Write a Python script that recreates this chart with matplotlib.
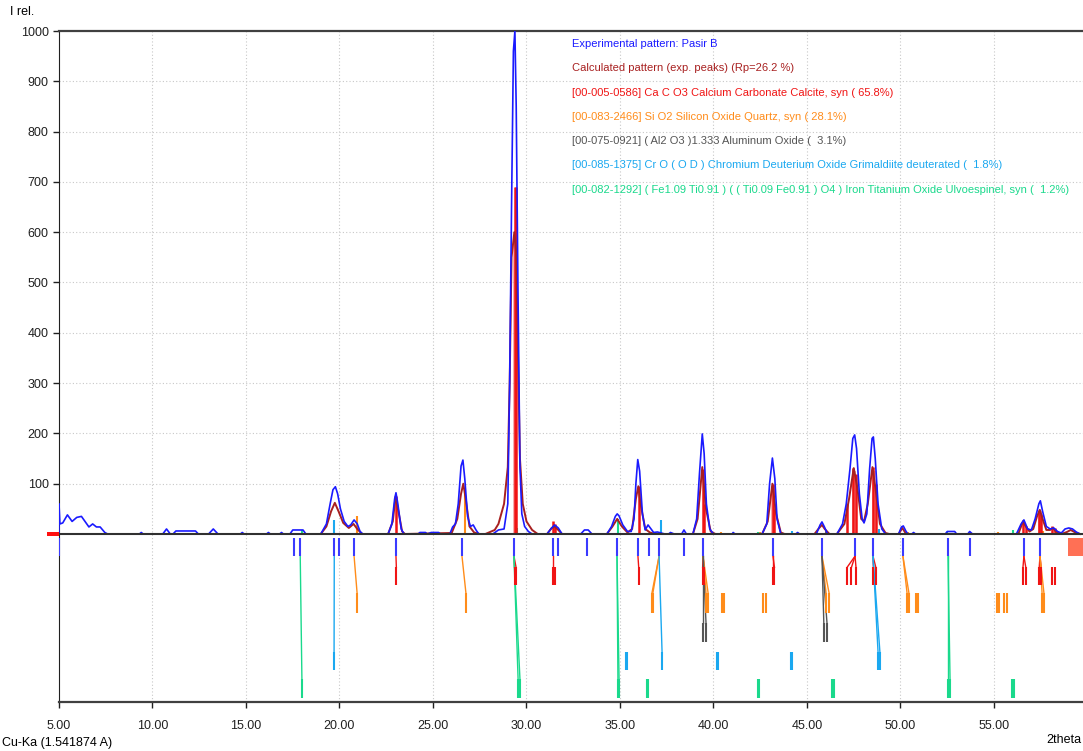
import numpy as np
import matplotlib.pyplot as plt

nan = np.nan

# experimental pattern (knots)
exp_2theta = [5.0, 5.0, 5.05, 5.2, 5.45, 5.7, 5.95, 6.2, 6.45, 6.6, 6.8, 7.0, 7.2, 7.45, 7.6,
              9.3, 9.4, 9.5, 10.55, 10.75, 10.95, 11.1, 11.25, 12.3, 12.45, 13.0, 13.25, 13.5,
              14.7, 14.8, 14.9, 16.1, 16.2, 16.3, 16.8, 16.9, 17.0, 17.35, 17.5, 18.05, 18.2,
              19.0, 19.3, 19.5, 19.65, 19.78, 19.9, 20.05, 20.25, 20.45, 20.6, 20.78, 20.95, 21.1, 21.25,
              22.6, 22.8, 22.95, 23.02, 23.12, 23.3, 23.45,
              24.2, 24.3, 24.6, 24.7, 24.9, 25.3, 25.4,
              25.9, 26.05, 26.2, 26.35, 26.5, 26.6, 26.7, 26.85, 27.0, 27.15, 27.3, 27.45,
              28.2, 28.5, 28.8, 29.0, 29.1, 29.2, 29.3, 29.38, 29.45, 29.55, 29.65, 29.75, 29.9, 30.1, 30.3,
              31.1, 31.3, 31.5, 31.7, 31.9, 32.9, 33.1, 33.3, 33.5,
              34.3, 34.55, 34.75, 34.85, 34.95, 35.15, 35.4, 35.6, 35.75, 35.85, 35.95, 36.05, 36.2,
              36.35, 36.5, 36.62, 36.8, 37.0, 37.2, 37.4, 37.6, 37.7, 37.9, 38.3, 38.42, 38.55,
              38.9, 39.1, 39.25, 39.4, 39.5, 39.62, 39.8, 40.0, 41.0, 41.05, 41.15,
              42.6, 42.85, 43.0, 43.15, 43.28, 43.4, 43.6, 44.4, 44.5, 44.6,
              45.5, 45.7, 45.8, 45.92, 46.1,
              46.6, 46.9, 47.1, 47.3, 47.45, 47.55, 47.65, 47.8, 47.95, 48.05, 48.2, 48.35, 48.48,
              48.55, 48.65, 48.8, 49.0, 49.2,
              49.9, 50.05, 50.15, 50.3, 50.4, 50.6, 50.7, 50.8,
              52.4, 52.5, 52.9, 53.0, 53.6, 53.7, 53.85,
              56.2, 56.45, 56.6, 56.8, 57.0, 57.2, 57.4, 57.48, 57.6, 57.8, 58.0, 58.2, 58.4,
              58.6, 58.8, 59.0, 59.2, 59.4, 59.6, 59.8]
exp_counts = [0, 60, 20, 22, 38, 25, 33, 35, 22, 14, 20, 14, 14, 3, 0,
              0, 3, 0, 0, 10, 0, 0, 6, 6, 0, 0, 10, 0,
              0, 3, 0, 0, 3, 0, 0, 3, 0, 0, 8, 8, 0,
              0, 20, 60, 88, 94, 80, 50, 25, 15, 18, 28, 20, 5, 0,
              0, 20, 70, 82, 60, 10, 0,
              0, 3, 3, 0, 3, 3, 0,
              0, 14, 20, 60, 135, 147, 110, 35, 15, 18, 8, 0,
              0, 8, 10, 60, 300, 650, 960, 1000, 850, 465, 133, 40, 15, 5, 0,
              0, 10, 18, 12, 0, 0, 8, 8, 0,
              0, 15, 35, 40, 36, 18, 5, 5, 30, 100, 148, 125, 40,
              8, 18, 12, 3, 4, 2, 0, 0, 3, 0, 0, 8, 0,
              0, 30, 120, 199, 160, 60, 10, 0, 0, 3, 0,
              0, 20, 100, 151, 110, 30, 0, 0, 3, 0,
              0, 18, 24, 15, 0,
              0, 20, 60, 130, 190, 197, 170, 80, 30, 22, 40, 130, 190,
              193, 150, 60, 10, 0,
              0, 14, 16, 5, 0, 0, 3, 0,
              0, 5, 5, 0, 0, 5, 0,
              0, 20, 28, 10, 8, 30, 60, 66, 45, 15, 10, 12, 5,
              2, 10, 12, 10, 4, 0, 0]

# calculated pattern
calc_2theta = [5.0, 19.0, 19.3, 19.55, 19.75, 19.95, 20.2, 20.5, 20.75, 20.95, 21.2,
               22.6, 22.85, 23.0, 23.15, 23.35, 23.5,
               26.0, 26.3, 26.5, 26.62, 26.75, 26.95, 27.2, 27.5,
               27.8, 28.3, 28.5, 28.8, 29.0, 29.1, 29.2, 29.35, 29.45, 29.55, 29.65, 29.8, 30.0, 30.3, 30.6,
               31.1, 31.35, 31.5, 31.7, 31.9,
               34.3, 34.6, 34.85, 35.1, 35.4, 35.65, 35.85, 35.98, 36.1, 36.35, 36.6, 36.9,
               38.9, 39.15, 39.4, 39.6, 39.85, 40.1,
               42.6, 42.9, 43.15, 43.35, 43.6, 43.8,
               45.4, 45.65, 45.8, 45.95, 46.2,
               46.6, 47.0, 47.25, 47.5, 47.7, 47.9, 48.05, 48.25, 48.5, 48.7, 48.9, 49.2, 49.4,
               49.9, 50.1, 50.3,
               56.3, 56.55, 56.7, 56.9, 57.1, 57.3, 57.45, 57.6, 57.8, 58.0, 58.15, 58.3, 58.6,
               58.9, 59.1, 59.3, 59.6]
calc_counts = [0, 0, 15, 45, 62, 45, 22, 12, 20, 10, 0,
               0, 25, 75, 45, 5, 0,
               2, 30, 80, 100, 70, 15, 3, 0,
               0, 8, 20, 60, 133, 300, 550, 600, 560, 350, 150, 60, 25, 8, 0,
               0, 12, 15, 8, 0,
               0, 15, 30, 15, 3, 10, 70, 95, 60, 10, 3, 0,
               0, 30, 133, 50, 5, 0,
               0, 25, 100, 40, 3, 0,
               0, 12, 18, 10, 0,
               0, 20, 70, 131, 90, 30, 25, 60, 133, 80, 20, 2, 0,
               0, 12, 0,
               0, 25, 15, 5, 10, 35, 48, 30, 8, 8, 12, 5, 0,
               4, 8, 4, 0]

# phase lines drawn in the pattern area
calcite_top_pos = [23.04, 29.36, 29.44, 31.42, 31.5, 36.0, 39.42, 39.5, 43.17, 43.25,
                   47.15, 47.45, 47.6, 48.52, 48.68, 56.55, 56.7, 57.42, 57.52, 58.1, 58.25]
calcite_top_int = [75, 690, 690, 25, 20, 95, 130, 60, 100, 50,
                   60, 131, 120, 133, 100, 28, 15, 48, 40, 15, 12]
calcite_fill_pos = [29.4, 43.2, 47.5, 48.6, 57.45]
calcite_fill_int = [590, 95, 125, 125, 45]
quartz_top_pos = [20.92, 26.7, 36.6, 39.5, 40.4, 42.5, 46.0, 50.4, 55.2, 57.6]
quartz_top_int = [35, 92, 4, 5, 3, 3, 4, 4, 3, 5]
alumina_top_pos = [39.5, 46.0]
alumina_top_int = [8, 8]
grimaldiite_top_pos = [19.72, 37.2, 44.2, 48.85]
grimaldiite_top_int = [28, 28, 5, 10]
ulvo_top_pos = [18.0, 29.5, 34.9, 42.4, 52.5, 56.0]
ulvo_top_int = [8, 12, 30, 4, 4, 8]

# peak search markers
obs_peaks = [5.0, 17.56, 17.9, 19.72, 19.95, 20.78, 23.02, 26.55, 29.33, 31.42, 31.68,
             33.23, 34.84, 35.96, 36.55, 37.09, 38.42, 39.44, 43.18, 45.8, 47.57, 48.53,
             50.13, 52.54, 53.72, 56.6, 57.46]

# reference lines of each phase and the observed peak they are matched to
calcite_ref = [23.04, 29.36, 29.44, 31.42, 31.52, 36.0, 39.42, 39.5, 43.18, 43.26, 47.15,
               47.38, 47.62, 48.55, 48.68, 56.55, 56.7, 57.42, 57.52, 58.12, 58.25]
calcite_obs = [23.02, 29.33, 29.33, 31.42, nan, 35.96, 39.44, 39.44, 43.18, 43.18, 47.57,
               47.57, 47.57, 48.53, 48.53, 56.6, 56.6, 57.46, 57.46, nan, nan]
quartz_ref = [20.94, 26.76, 36.71, 36.76, 39.6, 39.71, 40.45, 40.56, 42.65, 42.81, 46.02,
              46.18, 50.35, 50.45, 50.83, 50.94, 55.16, 55.27, 55.53, 55.7, 57.57, 57.67]
quartz_obs = [20.78, 26.55, 37.09, 37.09, 39.44, 39.44, nan, nan, nan, nan, 45.8,
              45.8, 50.13, 50.13, nan, nan, nan, nan, nan, nan, 57.46, 57.46]
alumina_ref = [39.44, 39.6, 45.9, 46.07]
alumina_obs = [39.44, 39.44, 45.8, 45.8]
grimaldiite_ref = [19.71, 35.32, 35.37, 37.25, 40.19, 40.24, 44.14, 44.2, 48.8, 48.9]
grimaldiite_obs = [19.72, nan, nan, 37.09, nan, nan, nan, nan, 48.53, 48.53]
ulvo_ref = [17.99, 29.55, 29.65, 34.89, 34.95, 36.44, 36.5, 42.38, 42.43, 46.34, 46.44,
            52.54, 52.65, 55.96, 56.07]
ulvo_obs = [17.9, 29.33, 29.33, 34.84, 34.84, nan, nan, nan, nan, nan, nan,
            52.54, 52.54, nan, nan]

legend_lines = [
    "Experimental pattern: Pasir B",
    "Calculated pattern (exp. peaks) (Rp=26.2 %)",
    "[00-005-0586] Ca C O3 Calcium Carbonate Calcite, syn ( 65.8%)",
    "[00-083-2466] Si O2 Silicon Oxide Quartz, syn ( 28.1%)",
    "[00-075-0921] ( Al2 O3 )1.333 Aluminum Oxide (  3.1%)",
    "[00-085-1375] Cr O ( O D ) Chromium Deuterium Oxide Grimaldiite deuterated (  1.8%)",
    "[00-082-1292] ( Fe1.09 Ti0.91 ) ( ( Ti0.09 Fe0.91 ) O4 ) Iron Titanium Oxide Ulvoespinel, syn (  1.2%)",
]

c_exp = '#1a1aff'
c_calc = '#a82020'
c_calcite = '#f01414'
c_quartz = '#ff8c1a'
c_alumina = '#555555'
c_grim = '#1aa8f0'
c_ulvo = '#1ad98c'
legend_colors = [c_exp, c_calc, c_calcite, c_quartz, c_alumina, c_grim, c_ulvo]

plt.rcParams['font.family'] = ['Liberation Sans', 'DejaVu Sans']

fig = plt.figure(figsize=(10.83, 7.51), dpi=100)
ax = fig.add_axes([59 / 1083, 1 - 702 / 751, 1 - 59 / 1083, (702 - 31) / 751])

xmax = 59.76
ymin, ymax = -334, 1000

# grid
for x in range(10, 60, 5):
    ax.axvline(x, color='#c8c8c8', lw=0.8, ls=(0, (1, 2)), zorder=0)
for y in range(100, 1000, 100):
    ax.axhline(y, color='#c8c8c8', lw=0.8, ls=(0, (1, 2)), zorder=0)

# phase lines in the pattern area
ax.bar(calcite_fill_pos, calcite_fill_int, width=0.22, color='#f48c8c', alpha=0.7, lw=0, zorder=1)
ax.vlines(quartz_top_pos, 0, quartz_top_int, color=c_quartz, lw=1.5, zorder=2)
ax.vlines(alumina_top_pos, 0, alumina_top_int, color=c_alumina, lw=1.2, zorder=2)
ax.vlines(grimaldiite_top_pos, 0, grimaldiite_top_int, color=c_grim, lw=1.5, zorder=2)
ax.vlines(ulvo_top_pos, 0, ulvo_top_int, color=c_ulvo, lw=1.5, zorder=2)
ax.vlines(calcite_top_pos, 0, calcite_top_int, color=c_calcite, lw=1.8, zorder=3)

# patterns
ax.plot(calc_2theta, calc_counts, color=c_calc, lw=1.4, zorder=4)
ax.plot(exp_2theta, exp_counts, color=c_exp, lw=1.2, zorder=5)

ax.axhline(0, color='#303030', lw=1.5, zorder=6)

# peak markers and phase rows below zero
obs_top, obs_bot = -8, -44
ax.vlines(obs_peaks, obs_bot, obs_top, color='#3a3aff', lw=1.5, zorder=3)
ax.add_patch(plt.Rectangle((58.95, obs_bot), 2, obs_top - obs_bot, color='#ff7055', lw=0, zorder=3))
ax.add_patch(plt.Rectangle((4.36, -4), 0.64, 8, color='#ff1010', lw=0, clip_on=False, zorder=7))

rows = [
    (calcite_ref, calcite_obs, c_calcite, -66, -101),
    (quartz_ref, quartz_obs, c_quartz, -117, -157),
    (alumina_ref, alumina_obs, c_alumina, -177, -215),
    (grimaldiite_ref, grimaldiite_obs, c_grim, -235, -270),
    (ulvo_ref, ulvo_obs, c_ulvo, -288, -326),
]
for ref, obs, col, top, bot in rows:
    ax.vlines(ref, bot, top, color=col, lw=1.5, zorder=3)
    for r, o in zip(ref, obs):
        if not np.isnan(o):
            ax.plot([o, r], [obs_bot, top], color=col, lw=1.0, zorder=2)

# legend as coloured text
for i, (txt, col) in enumerate(zip(legend_lines, legend_colors)):
    ax.text(32.43, 974 - 48.2 * i, txt, color=col, fontsize=8, va='center', ha='left', zorder=8)

ax.set_xlim(5, xmax)
ax.set_ylim(ymin, ymax)
ax.set_xticks(range(5, 60, 5))
ax.set_xticklabels([f"{v:.2f}" for v in range(5, 60, 5)])
ax.set_yticks(range(100, 1001, 100))
ax.tick_params(axis='both', direction='out', length=4, width=1, labelsize=9, colors='#202020')
ax.tick_params(axis='x', pad=9)

ax.spines['right'].set_visible(False)
ax.spines['top'].set_color('#404040')
ax.spines['top'].set_linewidth(1.6)
ax.spines['bottom'].set_color('#404040')
ax.spines['bottom'].set_linewidth(1.6)
ax.spines['left'].set_linestyle((0, (2, 1)))
ax.spines['left'].set_color('#202020')

fig.text(10 / 1083, 1 - 12 / 751, "I rel.", fontsize=9, va='center', ha='left')
fig.text(2 / 1083, 1 - 743 / 751, "Cu-Ka (1.541874 A)", fontsize=9, va='center', ha='left')
fig.text(1081 / 1083, 1 - 740 / 751, "2theta", fontsize=9, va='center', ha='right')

fig.savefig('out.png', dpi=100)
